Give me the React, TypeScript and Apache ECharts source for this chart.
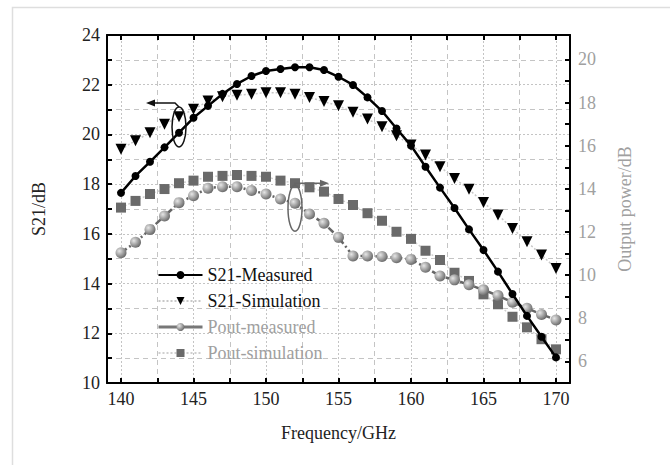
import React, { useEffect, useRef } from "react";
import * as echarts from "echarts";

const freqs = [140,141,142,143,144,145,146,147,148,149,150,151,152,153,154,155,156,157,158,159,160,161,162,163,164,165,166,167,168,169,170];
const s21Measured = [17.65,18.33,18.90,19.48,20.07,20.67,21.15,21.63,22.03,22.35,22.55,22.63,22.70,22.70,22.59,22.32,21.99,21.49,20.94,20.24,19.55,18.70,17.86,17.04,16.18,15.35,14.48,13.58,12.70,11.86,11.03];
const s21Simulation = [19.40,19.75,20.07,20.41,20.71,21.01,21.34,21.52,21.58,21.62,21.68,21.68,21.62,21.49,21.32,21.15,20.89,20.62,20.31,19.95,19.57,19.17,18.70,18.23,17.79,17.26,16.76,16.22,15.68,15.15,14.61];
const poutMeasured = [11.04,11.52,12.12,12.74,13.36,13.68,14.03,14.10,14.10,13.92,13.76,13.53,13.33,12.83,12.40,11.75,10.89,10.89,10.86,10.81,10.73,10.36,9.96,9.78,9.55,9.32,9.05,8.74,8.46,8.18,7.92];
const poutSimulation = [13.13,13.44,13.76,13.99,14.26,14.38,14.56,14.60,14.64,14.60,14.56,14.38,14.26,14.07,13.87,13.53,13.25,12.87,12.52,12.01,11.68,11.13,10.70,10.11,9.73,9.11,8.65,8.07,7.58,7.03,6.56];

const xLabels = [140,145,150,155,160,165,170];
const xTicks = [140,142.5,145,147.5,150,152.5,155,157.5,160,162.5,165,167.5,170];
const rightLabels = [6,8,10,12,14,16,18,20];
const rightTicks = [6,7,8,9,10,11,12,13,14,15,16,17,18,19,20];

const FONT = "Liberation Serif";

export default function App() {
  const ref = useRef<HTMLDivElement>(null);
  useEffect(() => {
    document.body.style.margin = "0";
    if (!ref.current) return;
    const chart = echarts.init(ref.current, null, { renderer: "svg" });
    const pair = (ys: number[]) => freqs.map((x, i) => [x, ys[i]]);
    const sphere = new echarts.graphic.RadialGradient(0.35, 0.35, 0.75, [
      { offset: 0, color: "#e6e6e6" },
      { offset: 1, color: "#5e5e5e" },
    ]);
    const gridMarks = xTicks.map((v, i) => ({
      xAxis: v,
      lineStyle: i % 2 === 0
        ? { color: "#c4c4c4", type: [2, 2], width: 1 }
        : { color: "#c4c4c4", type: [5, 4], width: 1 },
    }));
    const xCommon = {
      type: "value",
      min: 139.034,
      max: 170.966,
      axisLine: { show: true, lineStyle: { color: "#000", width: 2 } },
      splitLine: { show: false },
    };
    chart.setOption({
      animation: false,
      backgroundColor: "#fff",
      textStyle: { fontFamily: FONT },
      grid: { left: 107, top: 35, width: 463, height: 348, containLabel: false },
      xAxis: [
        {
          ...xCommon,
          position: "bottom",
          name: "Frequency/GHz",
          nameLocation: "middle",
          nameGap: 41,
          nameTextStyle: { fontFamily: FONT, fontSize: 18, color: "#222" },
          axisTick: { show: true, inside: true, length: 5, customValues: xTicks, lineStyle: { color: "#000", width: 2 } },
          axisLabel: { customValues: xLabels, fontFamily: FONT, fontSize: 18, color: "#222", margin: 7 },
        },
        {
          ...xCommon,
          position: "top",
          axisTick: { show: true, inside: true, length: 5, customValues: xTicks, lineStyle: { color: "#000", width: 2 } },
          axisLabel: { show: false },
        },
      ],
      yAxis: [
        {
          type: "value",
          min: 10,
          max: 24,
          interval: 2,
          position: "left",
          name: "S21/dB",
          nameLocation: "middle",
          nameGap: 59,
          nameRotate: 90,
          nameTextStyle: { fontFamily: FONT, fontSize: 18, color: "#222" },
          axisLine: { show: true, lineStyle: { color: "#000", width: 2 } },
          axisTick: { show: true, inside: true, length: 5, lineStyle: { color: "#000", width: 2 } },
          minorTick: { show: true, splitNumber: 2, length: 5, lineStyle: { color: "#000", width: 2 } },
          axisLabel: { fontFamily: FONT, fontSize: 18, color: "#222", margin: 7 },
          splitLine: { show: true, lineStyle: { color: "#c4c4c4", type: [2, 2], width: 1 } },
          minorSplitLine: { show: true, lineStyle: { color: "#c4c4c4", type: [5, 4], width: 1 } },
        },
        {
          type: "value",
          min: 5,
          max: 21.13,
          position: "right",
          name: "Output power/dB",
          nameLocation: "middle",
          nameGap: 46,
          nameRotate: 90,
          nameTextStyle: { fontFamily: FONT, fontSize: 18, color: "#a0a0a0" },
          axisLine: { show: true, lineStyle: { color: "#000", width: 2 } },
          axisTick: { show: true, inside: true, length: 5, customValues: rightTicks, lineStyle: { color: "#000", width: 2 } },
          axisLabel: { customValues: rightLabels, fontFamily: FONT, fontSize: 18, color: "#a0a0a0", margin: 8 },
          splitLine: { show: false },
        },
      ],
      legend: {
        orient: "vertical",
        left: 157,
        top: 266,
        padding: 0,
        itemWidth: 44,
        itemHeight: 10,
        itemGap: 8,
        textStyle: { fontFamily: FONT, fontSize: 18, color: "#111" },
        data: [
          { name: "S21-Measured", textStyle: { color: "#111" } },
          { name: "S21-Simulation", textStyle: { color: "#111" } },
          { name: "Pout-measured", textStyle: { color: "#a0a0a0" }, lineStyle: { type: "solid", width: 3, color: "#777" } },
          { name: "Pout-simulation", textStyle: { color: "#a0a0a0" } },
        ],
      },
      series: [
        {
          name: "grid",
          type: "line",
          data: [],
          silent: true,
          z: 0,
          markLine: { silent: true, symbol: "none", label: { show: false }, data: gridMarks, z: 0 },
        },
        {
          name: "S21-Simulation",
          type: "line",
          xAxisIndex: 0,
          yAxisIndex: 0,
          data: pair(s21Simulation),
          symbol: "triangle",
          symbolRotate: 180,
          symbolSize: 11,
          itemStyle: { color: "#000" },
          lineStyle: { color: "#c8c8c8", width: 1.5, type: [2, 2] },
          z: 5,
        },
        {
          name: "Pout-simulation",
          type: "line",
          xAxisIndex: 0,
          yAxisIndex: 1,
          data: pair(poutSimulation),
          symbol: "rect",
          symbolSize: 10,
          itemStyle: { color: "#6a6a6a" },
          lineStyle: { color: "#d0d0d0", width: 1.5, type: [2, 2] },
          z: 5,
        },
        {
          name: "Pout-measured",
          type: "line",
          xAxisIndex: 0,
          yAxisIndex: 1,
          data: pair(poutMeasured),
          symbol: "circle",
          symbolSize: 11,
          itemStyle: { color: sphere, borderWidth: 0 },
          lineStyle: { color: "#666", width: 2.5, type: [7, 3, 2, 3] },
          z: 6,
        },
        {
          name: "S21-Measured",
          type: "line",
          xAxisIndex: 0,
          yAxisIndex: 0,
          data: pair(s21Measured),
          symbol: "circle",
          symbolSize: 8,
          itemStyle: { color: "#000" },
          lineStyle: { color: "#000", width: 2.5 },
          z: 7,
        },
      ],
    });

    const p1 = chart.convertToPixel({ xAxisIndex: 0, yAxisIndex: 0 }, [144, 20.3]) as number[];
    const p2 = chart.convertToPixel({ xAxisIndex: 0, yAxisIndex: 1 }, [152, 13.1]) as number[];
    const r1 = { rx: 7, ry: 20 };
    const r2 = { rx: 7, ry: 23 };
    const a1y = p1[1] - r1.ry - 4;
    const a2y = p2[1] - r2.ry - 2;
    chart.setOption({
      graphic: [
        { type: "rect", left: 10, top: 5, shape: { x: 0, y: 0, width: 700, height: 500 }, style: { fill: "none", stroke: "#dedede", lineWidth: 1.5 }, silent: true, z: -10 },
        { type: "ellipse", shape: { cx: p1[0], cy: p1[1], rx: r1.rx, ry: r1.ry }, style: { fill: "none", stroke: "#111", lineWidth: 1.5 }, z: 100 },
        { type: "polyline", shape: { points: [[p1[0], p1[1] - r1.ry], [p1[0] - 4, a1y], [p1[0] - 26, a1y]] }, style: { fill: "none", stroke: "#111", lineWidth: 1.5 }, z: 100 },
        { type: "polygon", shape: { points: [[p1[0] - 33, a1y], [p1[0] - 24, a1y - 3.5], [p1[0] - 24, a1y + 3.5]] }, style: { fill: "#111" }, z: 100 },
        { type: "ellipse", shape: { cx: p2[0], cy: p2[1], rx: r2.rx, ry: r2.ry }, style: { fill: "none", stroke: "#666", lineWidth: 1.5 }, z: 100 },
        { type: "polyline", shape: { points: [[p2[0], p2[1] - r2.ry], [p2[0], a2y], [p2[0] + 27, a2y]] }, style: { fill: "none", stroke: "#666", lineWidth: 1.5 }, z: 100 },
        { type: "polygon", shape: { points: [[p2[0] + 34, a2y], [p2[0] + 25, a2y - 3.5], [p2[0] + 25, a2y + 3.5]] }, style: { fill: "#666" }, z: 100 },
      ],
    });
    return () => chart.dispose();
  }, []);
  return <div ref={ref} style={{ width: 670, height: 465 }} />;
}
